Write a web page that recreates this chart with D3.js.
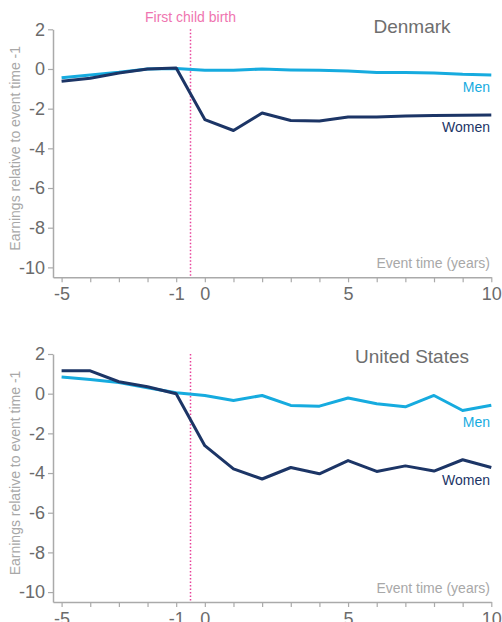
<!DOCTYPE html>
<html>
<head>
<meta charset="utf-8">
<script src="https://cdn.jsdelivr.net/npm/d3@7"></script>
<style>
  html, body { margin: 0; padding: 0; background: #fff; }
  svg { display: block; font-family: "Liberation Sans", Arial, sans-serif; }
</style>
</head>
<body>
<svg id="chart" width="502" height="622"></svg>
<script>
const years = [-5, -4, -3, -2, -1, 0, 1, 2, 3, 4, 5, 6, 7, 8, 9, 10];
const yTicks = [2, 0, -2, -4, -6, -8, -10];
const xTickLabels = [-5, -1, 0, 5, 10];
const eventLine = -0.5;

const denmarkWomen = [-0.62, -0.47, -0.2, 0.0, 0.05, -2.55, -3.1, -2.22, -2.6, -2.62, -2.42, -2.42, -2.37, -2.35, -2.33, -2.32];
const denmarkMen   = [-0.44, -0.3, -0.17, 0.0, 0.03, -0.07, -0.07, 0.0, -0.05, -0.07, -0.1, -0.18, -0.18, -0.2, -0.27, -0.3];
const usWomen = [1.15, 1.15, 0.6, 0.35, 0.0, -2.62, -3.79, -4.3, -3.72, -4.04, -3.37, -3.92, -3.64, -3.9, -3.33, -3.72];
const usMen   = [0.84, 0.72, 0.56, 0.3, 0.05, -0.09, -0.34, -0.09, -0.59, -0.63, -0.22, -0.51, -0.66, -0.09, -0.85, -0.58];

const C = {
  men: "#16abdf",
  women: "#1c3566",
  axis: "#aaaaaa",
  tick: "#6b6b6b",
  faint: "#a8a8a8",
  pinkText: "#ef75b0",
  pinkLine: "#e8429a",
  title: "#6e6e6e"
};

const svg = d3.select("#chart");

function panel(opts) {
  const g = svg.append("g");
  const x = d3.scaleLinear().domain([-5.3, 10]).range([53, 491.3]);
  const y = d3.scaleLinear().domain([-10.5, 2]).range([opts.top + 248, opts.top]);

  // y axis
  const ya = g.append("g").attr("transform", `translate(${x(-5.3)},0)`)
    .call(d3.axisLeft(y).tickValues(yTicks).tickSize(5).tickSizeOuter(0).tickPadding(3)
      .tickFormat(d => d));
  // x axis
  const xa = g.append("g").attr("transform", `translate(0,${y(-10.5)})`)
    .call(d3.axisBottom(x).tickValues(years).tickSize(5).tickSizeOuter(0).tickPadding(5)
      .tickFormat(d => xTickLabels.includes(d) ? d : ""));
  [ya, xa].forEach(a => {
    a.select(".domain").attr("stroke", C.axis).attr("stroke-width", 1.5);
    a.selectAll(".tick line").attr("stroke", C.axis).attr("stroke-width", 1.2);
    a.selectAll(".tick text").attr("fill", C.tick).attr("font-size", 18)
      .attr("font-family", "'Liberation Sans', Arial, sans-serif");
  });

  // event line
  g.append("line")
    .attr("x1", x(eventLine)).attr("x2", x(eventLine))
    .attr("y1", y(2)).attr("y2", y(-10.5))
    .attr("stroke", C.pinkLine).attr("stroke-width", 1.5)
    .attr("stroke-dasharray", "1.5,2");

  const line = d3.line().x((d, i) => x(years[i])).y(d => y(d));
  g.append("path").datum(opts.men).attr("d", line)
    .attr("fill", "none").attr("stroke", C.men).attr("stroke-width", 3)
    .attr("stroke-linejoin", "round");
  g.append("path").datum(opts.women).attr("d", line)
    .attr("fill", "none").attr("stroke", C.women).attr("stroke-width", 3)
    .attr("stroke-linejoin", "round");

  // labels
  g.append("text").attr("x", 412).attr("y", opts.top + opts.titleDy)
    .attr("text-anchor", "middle").attr("font-size", 19).attr("fill", C.title)
    .text(opts.title);
  g.append("text").attr("x", 490).attr("y", opts.top + opts.menDy)
    .attr("text-anchor", "end").attr("font-size", 14).attr("fill", C.men).text("Men");
  g.append("text").attr("x", 490).attr("y", opts.top + opts.womenDy)
    .attr("text-anchor", "end").attr("font-size", 14).attr("fill", C.women).text("Women");
  g.append("text").attr("x", 490).attr("y", opts.top + 238.5)
    .attr("text-anchor", "end").attr("font-size", 14).attr("fill", C.faint)
    .text("Event time (years)");
  g.append("text")
    .attr("transform", `translate(20,${opts.top + 119}) rotate(-90)`)
    .attr("text-anchor", "middle").attr("font-size", 14).attr("fill", C.faint)
    .text("Earnings relative to event time -1");
  if (opts.showEvent) {
    g.append("text").attr("x", x(eventLine)).attr("y", 21.5)
      .attr("text-anchor", "middle").attr("font-size", 14).attr("fill", C.pinkText)
      .text("First child birth");
  }
}

panel({ top: 29.3, title: "Denmark", men: denmarkMen, women: denmarkWomen,
        titleDy: 3.5, menDy: 62.4, womenDy: 102.7, showEvent: true });
panel({ top: 354, title: "United States", men: usMen, women: usWomen,
        titleDy: 8.7, menDy: 72.7, womenDy: 131, showEvent: false });
</script>
</body>
</html>
